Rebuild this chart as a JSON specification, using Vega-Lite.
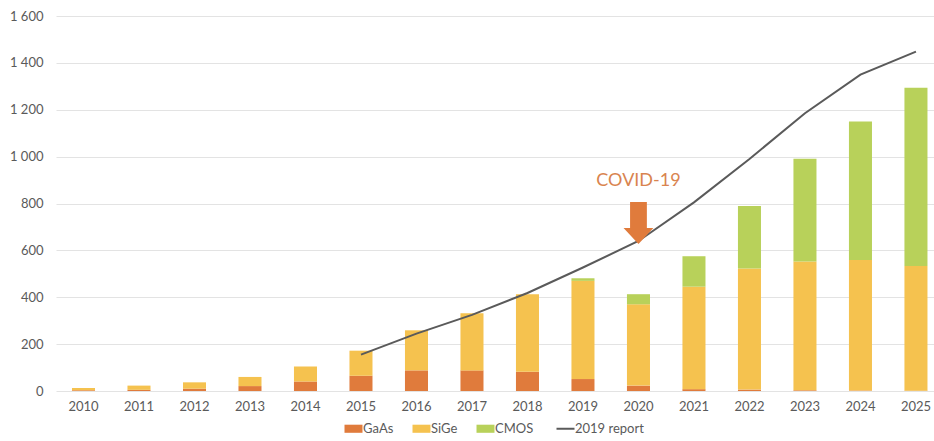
{
  "$schema": "https://vega.github.io/schema/vega-lite/v6.json",
  "width": 878,
  "height": 375,
  "autosize": {"type": "none"},
  "padding": {"left": 56, "top": 16, "right": 0, "bottom": 50},
  "background": "white",
  "config": {
    "view": {"stroke": null},
    "font": "Lato",
    "axis": {"labelFont": "Lato", "labelFontSize": 13, "labelColor": "#5a5a5a", "ticks": false, "domain": false, "title": null},
    "legend": {"layout": {"bottom": {"anchor": "middle"}}}
  },
  "datasets": {
    "bars": [
      {"year": "2010", "series": "GaAs", "rank": 1, "value": 3}, {"year": "2010", "series": "SiGe", "rank": 2, "value": 10}, {"year": "2010", "series": "CMOS", "rank": 3, "value": 0},
      {"year": "2011", "series": "GaAs", "rank": 1, "value": 5}, {"year": "2011", "series": "SiGe", "rank": 2, "value": 18}, {"year": "2011", "series": "CMOS", "rank": 3, "value": 0},
      {"year": "2012", "series": "GaAs", "rank": 1, "value": 10}, {"year": "2012", "series": "SiGe", "rank": 2, "value": 27}, {"year": "2012", "series": "CMOS", "rank": 3, "value": 0},
      {"year": "2013", "series": "GaAs", "rank": 1, "value": 21}, {"year": "2013", "series": "SiGe", "rank": 2, "value": 39}, {"year": "2013", "series": "CMOS", "rank": 3, "value": 0},
      {"year": "2014", "series": "GaAs", "rank": 1, "value": 41}, {"year": "2014", "series": "SiGe", "rank": 2, "value": 64}, {"year": "2014", "series": "CMOS", "rank": 3, "value": 0},
      {"year": "2015", "series": "GaAs", "rank": 1, "value": 65}, {"year": "2015", "series": "SiGe", "rank": 2, "value": 107}, {"year": "2015", "series": "CMOS", "rank": 3, "value": 0},
      {"year": "2016", "series": "GaAs", "rank": 1, "value": 88}, {"year": "2016", "series": "SiGe", "rank": 2, "value": 171}, {"year": "2016", "series": "CMOS", "rank": 3, "value": 0},
      {"year": "2017", "series": "GaAs", "rank": 1, "value": 88}, {"year": "2017", "series": "SiGe", "rank": 2, "value": 244}, {"year": "2017", "series": "CMOS", "rank": 3, "value": 0},
      {"year": "2018", "series": "GaAs", "rank": 1, "value": 82}, {"year": "2018", "series": "SiGe", "rank": 2, "value": 331}, {"year": "2018", "series": "CMOS", "rank": 3, "value": 0},
      {"year": "2019", "series": "GaAs", "rank": 1, "value": 51}, {"year": "2019", "series": "SiGe", "rank": 2, "value": 419}, {"year": "2019", "series": "CMOS", "rank": 3, "value": 11},
      {"year": "2020", "series": "GaAs", "rank": 1, "value": 23}, {"year": "2020", "series": "SiGe", "rank": 2, "value": 347}, {"year": "2020", "series": "CMOS", "rank": 3, "value": 43},
      {"year": "2021", "series": "GaAs", "rank": 1, "value": 8}, {"year": "2021", "series": "SiGe", "rank": 2, "value": 437}, {"year": "2021", "series": "CMOS", "rank": 3, "value": 130},
      {"year": "2022", "series": "GaAs", "rank": 1, "value": 6}, {"year": "2022", "series": "SiGe", "rank": 2, "value": 517}, {"year": "2022", "series": "CMOS", "rank": 3, "value": 266},
      {"year": "2023", "series": "GaAs", "rank": 1, "value": 3}, {"year": "2023", "series": "SiGe", "rank": 2, "value": 550}, {"year": "2023", "series": "CMOS", "rank": 3, "value": 438},
      {"year": "2024", "series": "GaAs", "rank": 1, "value": 2}, {"year": "2024", "series": "SiGe", "rank": 2, "value": 557}, {"year": "2024", "series": "CMOS", "rank": 3, "value": 591},
      {"year": "2025", "series": "GaAs", "rank": 1, "value": 1}, {"year": "2025", "series": "SiGe", "rank": 2, "value": 532}, {"year": "2025", "series": "CMOS", "rank": 3, "value": 761}
    ],
    "report": [
      {"year": "2015", "report": 155}, {"year": "2016", "report": 245}, {"year": "2017", "report": 325},
      {"year": "2018", "report": 418}, {"year": "2019", "report": 527}, {"year": "2020", "report": 640},
      {"year": "2021", "report": 805}, {"year": "2022", "report": 990}, {"year": "2023", "report": 1185},
      {"year": "2024", "report": 1350}, {"year": "2025", "report": 1448}
    ],
    "note": [{"year": "2020", "text": "COVID-19", "textY": 896, "arrowY": 717}]
  },
  "encoding": {
    "x": {
      "field": "year", "type": "nominal",
      "scale": {"paddingInner": 0.585, "paddingOuter": 0.2027, "align": 0.71},
      "axis": {"labelAngle": 0, "labelPadding": 9, "grid": false}
    }
  },
  "layer": [
    {
      "data": {"name": "bars"},
      "mark": {"type": "bar"},
      "encoding": {
        "y": {
          "field": "value", "type": "quantitative", "stack": "zero",
          "scale": {"domain": [0, 1600], "nice": false},
          "axis": {"values": [0, 200, 400, 600, 800, 1000, 1200, 1400, 1600], "labelPadding": 13, "gridColor": "#e3e3e3", "gridWidth": 1, "labelExpr": "replace(format(datum.value, ','), ',', ' ')"}
        },
        "color": {
          "field": "series", "type": "nominal",
          "scale": {"domain": ["GaAs", "SiGe", "CMOS", "2019 report"], "range": ["#E07B3C", "#F5C24F", "#B8D15A", "#5a5a5a"]},
          "legend": {
            "title": null, "orient": "bottom", "direction": "horizontal", "offset": 9,
            "labelFont": "Lato", "labelFontSize": 13, "labelColor": "#5a5a5a",
            "symbolSize": 324, "labelOffset": 3, "columnPadding": 18,
            "encode": {
              "symbols": {
                "update": {
                  "shape": {"signal": "datum.value === '2019 report' ? 'stroke' : 'M-1,-0.45L1,-0.45L1,0.45L-1,0.45Z'"},
                  "fill": {"scale": "color", "field": "value"},
                  "stroke": {"scale": "color", "field": "value"},
                  "strokeWidth": {"signal": "datum.value === '2019 report' ? 2 : 0"},
                  "opacity": {"value": 1},
                  "fillOpacity": {"value": 1}
                }
              }
            }
          }
        },
        "order": {"field": "rank", "type": "quantitative", "sort": "ascending"}
      }
    },
    {
      "data": {"name": "report"},
      "mark": {"type": "line", "strokeWidth": 2},
      "encoding": {
        "y": {"field": "report", "type": "quantitative"},
        "color": {"datum": "2019 report"}
      }
    },
    {
      "data": {"name": "note"},
      "mark": {"type": "point", "filled": true, "opacity": 1, "size": 1764, "color": "#E07B3C", "shape": "M-0.4,-1L0.4,-1L0.4,0.24L0.71,0.24L0,1L-0.71,0.24L-0.4,0.24Z"},
      "encoding": {
        "y": {"field": "arrowY", "type": "quantitative"}
      }
    },
    {
      "data": {"name": "note"},
      "mark": {"type": "text", "fontSize": 18, "font": "Lato", "color": "#D9844F", "baseline": "middle", "align": "center"},
      "encoding": {
        "y": {"field": "textY", "type": "quantitative"},
        "text": {"field": "text"}
      }
    }
  ]
}
